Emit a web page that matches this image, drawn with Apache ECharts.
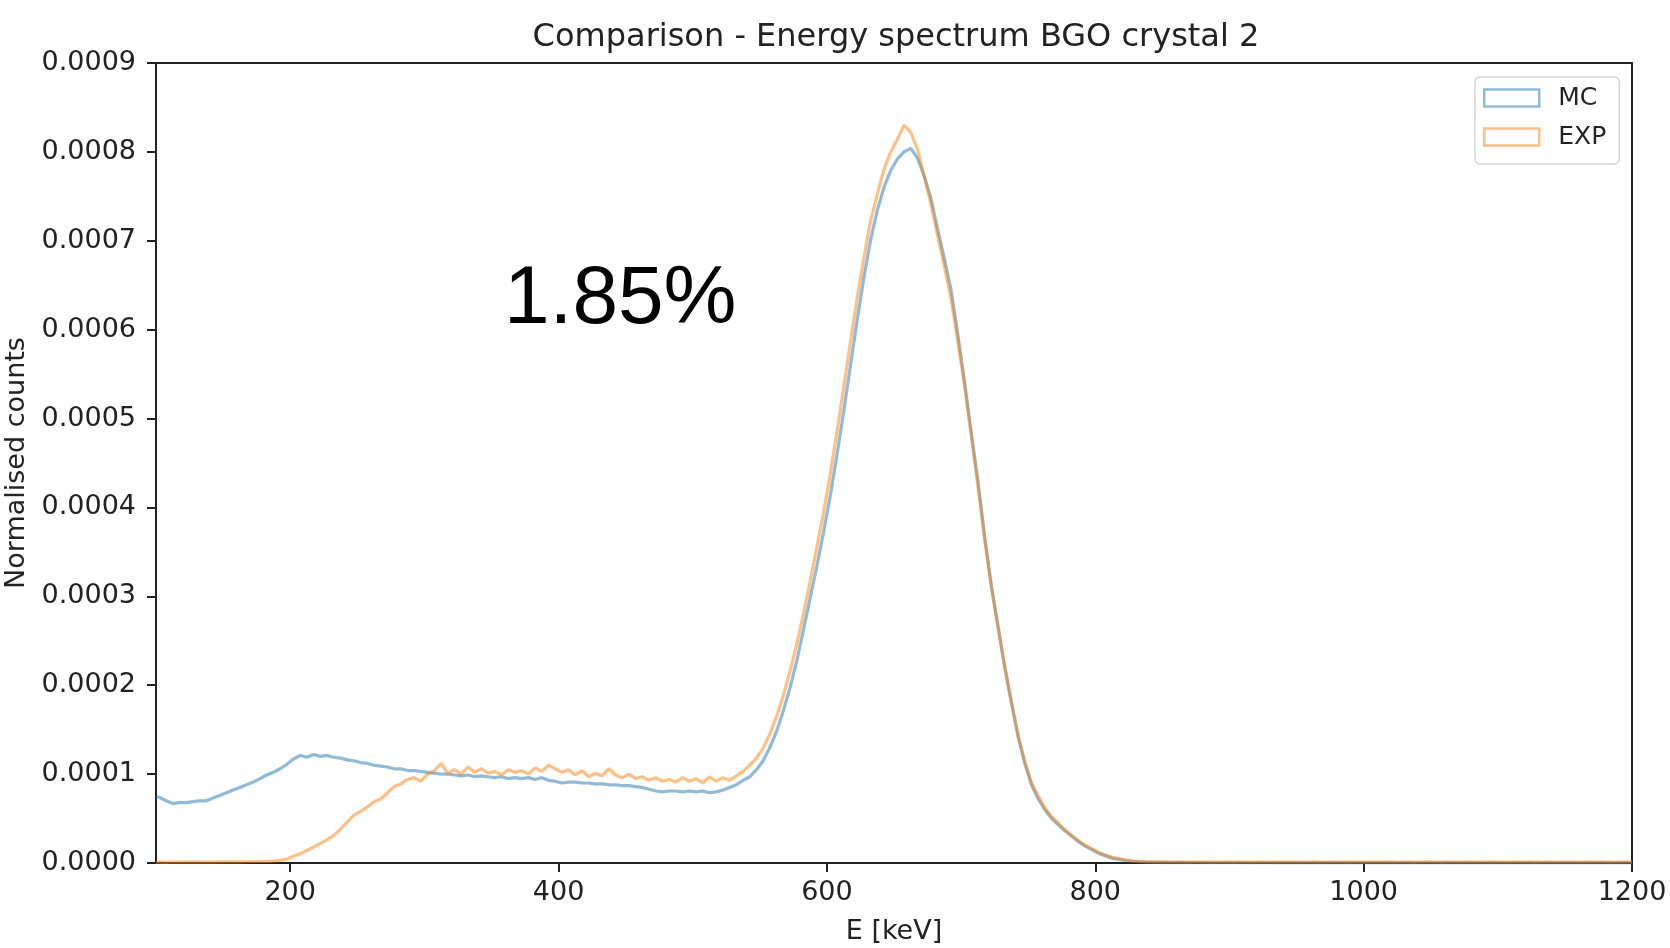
<!DOCTYPE html>
<html><head><meta charset="utf-8">
<script src="https://cdn.jsdelivr.net/npm/echarts@6/dist/echarts.min.js"></script>
<style>html,body{margin:0;padding:0;background:#fff}#c{width:1670px;height:948px}</style>
</head><body><div id="c"></div>
<script>
// Histogram binning (keV)
const binStart = 100;
const binWidth = 5;
const xMin = 100, xMax = 1200;
const xTicks = [200, 400, 600, 800, 1000, 1200];
const yMin = 0, yMax = 0.0009, yStep = 0.0001;
const countScale = 1e-4; // values below are in units of 1e-4

// MC normalised counts per 5 keV bin, starting at 100 keV (units of 1e-4)
const mcCounts = [
  0.74,0.70,0.67,0.68,0.68,0.69,0.70,0.70,0.73,0.76,
  0.79,0.82,0.85,0.88,0.91,0.95,0.99,1.02,1.06,1.11,
  1.17,1.21,1.19,1.22,1.20,1.21,1.19,1.18,1.16,1.15,
  1.13,1.12,1.10,1.09,1.08,1.06,1.06,1.04,1.04,1.03,
  1.02,1.01,1.00,1.00,0.99,0.98,0.99,0.97,0.98,0.97,
  0.96,0.97,0.95,0.96,0.95,0.96,0.94,0.96,0.93,0.92,
  0.90,0.91,0.91,0.90,0.90,0.89,0.89,0.88,0.88,0.87,
  0.87,0.86,0.85,0.83,0.81,0.80,0.81,0.81,0.80,0.81,
  0.80,0.81,0.79,0.80,0.82,0.85,0.88,0.93,0.97,1.05,
  1.15,1.30,1.48,1.71,1.97,2.27,2.62,2.98,3.34,3.72,
  4.13,4.59,5.08,5.59,6.10,6.58,7.00,7.34,7.60,7.79,
  7.92,8.00,8.04,7.93,7.73,7.48,7.13,6.80,6.45,5.95,
  5.42,4.85,4.30,3.68,3.12,2.66,2.20,1.80,1.42,1.12,
  0.88,0.72,0.60,0.50,0.43,0.36,0.30,0.24,0.19,0.15,
  0.11,0.08,0.055,0.04,0.028,0.02,0.013,0.009,0.007,0.006,
  0.005,
  0.004,0.004,0.004,0.003,0.004,0.003,0.003,0.003,0.003,0.003,
  0.003,0.003,0.002,0.003,0.003,0.002,0.003,0.002,0.002,0.003,
  0.002,0.002,0.002,0.003,0.002,0.002,0.002,0.002,0.002,0.002,
  0.002,0.002,0.002,0.002,0.002,0.002,0.002,0.002,0.002,0.002,
  0.002,0.002,0.002,0.002,0.002,0.002,0.002,0.002,0.002,0.002,
  0.002,0.002,0.002,0.002,0.002,0.002,0.002,0.002,0.002,0.002,
  0.002,0.002,0.002,0.002,0.002,0.002,0.002,0.002,0.002
];

// EXP normalised counts per 5 keV bin, starting at 100 keV (units of 1e-4)
const expCounts = [
  0.010,0.008,0.011,0.009,0.010,0.012,0.009,0.011,0.010,0.012,
  0.011,0.013,0.012,0.014,0.015,0.017,0.018,0.022,0.030,0.045,
  0.075,0.105,0.14,0.18,0.22,0.26,0.31,0.38,0.46,0.54,
  0.58,0.63,0.69,0.72,0.79,0.86,0.89,0.94,0.96,0.92,
  1.00,1.04,1.12,1.01,1.05,1.00,1.08,1.02,1.06,1.01,
  1.03,0.99,1.05,1.02,1.04,1.00,1.07,1.03,1.10,1.06,
  1.02,1.05,0.99,1.04,0.97,1.01,0.98,1.06,0.99,0.96,
  1.00,0.95,0.97,0.93,0.96,0.92,0.94,0.91,0.96,0.92,
  0.95,0.90,0.97,0.92,0.96,0.93,0.98,1.03,1.10,1.18,
  1.29,1.45,1.65,1.88,2.16,2.46,2.80,3.17,3.55,3.94,
  4.37,4.85,5.35,5.85,6.35,6.80,7.22,7.52,7.80,8.00,
  8.14,8.30,8.22,8.03,7.72,7.42,7.06,6.72,6.35,5.88,
  5.38,4.82,4.25,3.65,3.12,2.66,2.22,1.82,1.44,1.14,
  0.90,0.75,0.62,0.52,0.45,0.37,0.31,0.25,0.20,0.16,
  0.12,0.09,0.065,0.05,0.035,0.025,0.020,0.016,0.014,0.013,
  0.012,
  0.011,0.012,0.010,0.013,0.011,0.012,0.010,0.011,0.013,0.010,
  0.012,0.011,0.010,0.013,0.011,0.010,0.012,0.011,0.014,0.010,
  0.011,0.012,0.010,0.011,0.013,0.011,0.010,0.012,0.011,0.010,
  0.012,0.011,0.013,0.010,0.011,0.012,0.010,0.011,0.015,0.011,
  0.010,0.012,0.011,0.010,0.012,0.013,0.011,0.010,0.012,0.011,
  0.010,0.012,0.011,0.013,0.010,0.011,0.012,0.010,0.011,0.013,
  0.011,0.010,0.012,0.011,0.014,0.010,0.011,0.012,0.011
];

const seriesNames = ['MC', 'EXP'];
const titleText = 'Comparison - Energy spectrum BGO crystal 2';
const annotationText = '1.85%';

// points at bin centres; first/last bins extended to the axis edges
function toPoints(counts) {
  const pts = counts.map((v, i) => [binStart + (i + 0.5) * binWidth, v * countScale]);
  pts.unshift([binStart, counts[0] * countScale]);
  pts.push([binStart + counts.length * binWidth, counts[counts.length - 1] * countScale]);
  return pts;
}

const FONT = 'DejaVu Sans';
const INK = '#222';
const chart = echarts.init(document.getElementById('c'), null, {renderer: 'canvas'});
chart.setOption({
  animation: false,
  backgroundColor: '#fff',
  title: {
    text: titleText, left: 891, textAlign: 'center', top: 17,
    textStyle: {fontFamily: FONT, fontSize: 32, fontWeight: 'normal', color: INK}
  },
  grid: {left: 156, right: 38, top: 63, bottom: 85, containLabel: false, outerBoundsMode: 'none',
         show: true, borderColor: INK, borderWidth: 2, backgroundColor: 'transparent'},
  legend: {
    orient: 'vertical', left: 1475, top: 77,
    padding: [8, 13, 14, 8], itemGap: 13,
    backgroundColor: '#fff', borderColor: '#d5d5d5', borderWidth: 1.5, borderRadius: 5,
    icon: 'rect', itemWidth: 55, itemHeight: 17,
    textStyle: {fontFamily: FONT, fontSize: 25, color: INK, lineHeight: 26, padding: [0, 0, 0, 14]},
    data: [
      {name: seriesNames[0], itemStyle: {color: 'transparent', borderColor: 'rgba(31,119,180,0.5)', borderWidth: 2.5}},
      {name: seriesNames[1], itemStyle: {color: 'transparent', borderColor: 'rgba(255,127,14,0.5)', borderWidth: 2.5}}
    ]
  },
  xAxis: {
    type: 'value', min: xMin, max: xMax,
    axisLine: {show: true, onZero: false, lineStyle: {color: INK, width: 2}},
    axisTick: {show: true, customValues: xTicks, length: 9, lineStyle: {color: INK, width: 2}},
    axisLabel: {customValues: xTicks, fontFamily: FONT, fontSize: 27, color: INK, margin: 16, formatter: v => String(v)},
    splitLine: {show: false},
    name: 'E [keV]', nameLocation: 'middle', nameGap: 55,
    nameTextStyle: {fontFamily: FONT, fontSize: 27, color: INK}
  },
  yAxis: {
    type: 'value', min: yMin, max: yMax, interval: yStep,
    axisLine: {show: true, lineStyle: {color: INK, width: 2}},
    axisTick: {show: true, length: 9, lineStyle: {color: INK, width: 2}},
    axisLabel: {fontFamily: FONT, fontSize: 27, color: INK, margin: 20, formatter: v => v.toFixed(4)},
    splitLine: {show: false},
    name: 'Normalised counts', nameLocation: 'middle', nameGap: 126,
    nameTextStyle: {fontFamily: FONT, fontSize: 27, color: INK}
  },
  graphic: [{
    type: 'text', x: 504, y: 300, z: 100,
    style: {text: annotationText, fontFamily: 'Liberation Sans', fontSize: 82, fill: '#000', verticalAlign: 'middle', align: 'left'}
  }],
  series: [
    {name: seriesNames[0], type: 'line', showSymbol: false, color: '#1f77b4',
     lineStyle: {width: 3.2, color: '#1f77b4', opacity: 0.5}, data: toPoints(mcCounts), z: 2},
    {name: seriesNames[1], type: 'line', showSymbol: false, color: '#ff7f0e',
     lineStyle: {width: 3.2, color: '#ff7f0e', opacity: 0.5}, data: toPoints(expCounts), z: 3}
  ]
});
</script>
</body></html>
